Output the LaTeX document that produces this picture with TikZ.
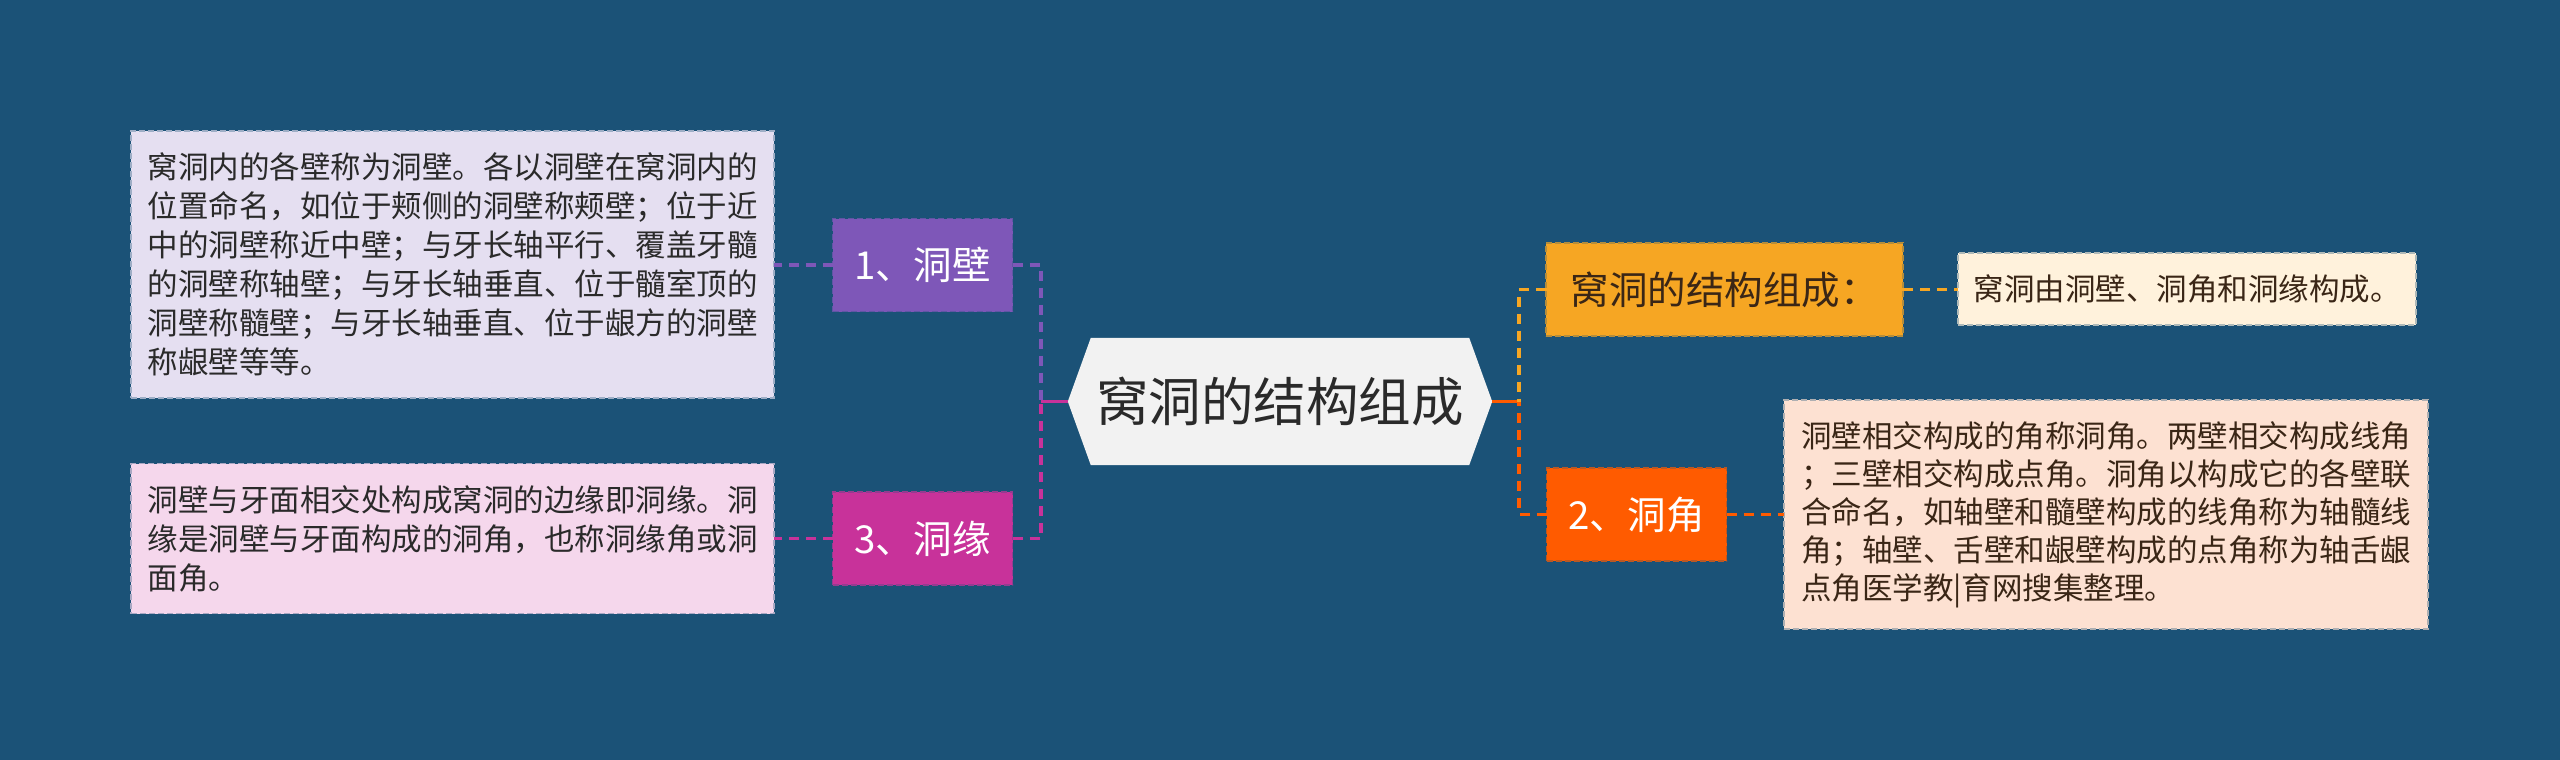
\documentclass[tikz,border=0pt]{standalone}
\usepackage{fontspec}
\setmainfont{Noto Sans CJK SC}
\usetikzlibrary{calc}
\definecolor{bg}{HTML}{1B5277}
\definecolor{cpurple}{HTML}{7E57B8}
\definecolor{cmagenta}{HTML}{C8329A}
\definecolor{corange}{HTML}{F6A623}
\definecolor{cred}{HTML}{FF5B00}
\definecolor{flav}{HTML}{E5DFF1}
\definecolor{fpink}{HTML}{F5D7EC}
\definecolor{fcream}{HTML}{FFF2DC}
\definecolor{fpeach}{HTML}{FDE1D2}
\definecolor{fcenter}{HTML}{F2F2F2}
\definecolor{tdark}{HTML}{2A2A2A}
\definecolor{tbrown}{HTML}{3A2616}
\tikzset{
  box/.style={rectangle, inner sep=0pt, outer sep=0pt, line width=1.5pt, dash pattern=on 6pt off 3pt},
  leaf/.style={box, align=left, font=\fontsize{30.5}{39}\selectfont},
  branch/.style={box, font=\fontsize{38.5}{44}\selectfont, minimum width=180pt, minimum height=93pt},
  link/.style={line width=3.5pt, dash pattern=on 10pt off 7pt},
}
\begin{document}
\begin{tikzpicture}[x=1pt,y=-1pt]
\fill[bg] (0,0) rectangle (2560,760);
\useasboundingbox (0,0) rectangle (2560,760);

% center
\node[inner sep=0pt, minimum width=424pt, minimum height=127pt] (c) at (1280,401.5) {};
\fill[fcenter] (c.west) -- ($(c.north west)+(23,0)$) -- ($(c.north east)+(-23,0)$) -- (c.east) -- ($(c.south east)+(-23,0)$) -- ($(c.south west)+(23,0)$) -- cycle;
\node[font=\fontsize{52.5}{60}\selectfont, text=tdark] at (c.center) {窝洞的结构组成};

% branch nodes
\node[branch, fill=cpurple, draw=cpurple!70!bg, text=white] (n1) at (922.5,265) {1、洞壁};
\node[branch, fill=cmagenta, draw=cmagenta!70!bg, text=white] (n3) at (922.5,538.5) {3、洞缘};
\node[branch, fill=corange, draw=corange!70!bg, text=tbrown, minimum width=357pt] (o1) at (1724.5,289.5) {窝洞的结构组成：};
\node[branch, fill=cred, draw=cred!70!bg, text=white] (n2) at (1636.5,514.5) {2、洞角};

% leaf nodes
\node[leaf, fill=flav, draw=flav!65!bg, text=tdark, minimum width=643pt, minimum height=267pt] (l1) at (452.5,264.5) {窝洞内的各壁称为洞壁。各以洞壁在窝洞内的\\位置命名，如位于颊侧的洞壁称颊壁；位于近\\中的洞壁称近中壁；与牙长轴平行、覆盖牙髓\\的洞壁称轴壁；与牙长轴垂直、位于髓室顶的\\洞壁称髓壁；与牙长轴垂直、位于龈方的洞壁\\称龈壁等等。};
\node[leaf, fill=fpink, draw=fpink!65!bg, text=tdark, minimum width=643pt, minimum height=150pt] (l3) at (452.5,538.5) {洞壁与牙面相交处构成窝洞的边缘即洞缘。洞\\缘是洞壁与牙面构成的洞角，也称洞缘角或洞\\面角。};
\node[leaf, fill=fcream, draw=fcream!65!bg, text=tbrown, minimum width=458pt, minimum height=72pt] (c1) at (2187,289) {窝洞由洞壁、洞角和洞缘构成。};
\node[leaf, fill=fpeach, draw=fpeach!65!bg, text=tbrown, minimum width=644pt, minimum height=229pt, font=\fontsize{30.5}{38}\selectfont] (r2) at (2106,514.5) {洞壁相交构成的角称洞角。两壁相交构成线角\\；三壁相交构成点角。洞角以构成它的各壁联\\合命名，如轴壁和髓壁构成的线角称为轴髓线\\角；轴壁、舌壁和龈壁构成的点角称为轴舌龈\\点角医学教|育网搜集整理。};

% trunk coordinates
\coordinate (lj) at (1041,401.5);
\coordinate (rj) at (1519,401.5);

% left connectors
\draw[cmagenta, line width=3.5pt] (c.west) -- (lj);
\draw[cpurple, link] (n1.east) -| (lj);
\draw[cmagenta, link] (n3.east) -| (lj);
\draw[cpurple, link] (n1.west) -- (l1.east |- n1.west);
\draw[cmagenta, link] (n3.west) -- (l3.east |- n3.west);

% right connectors
\draw[cred, line width=3.5pt] (c.east) -- (rj);
\draw[corange, link] (o1.west) -| (rj);
\draw[cred, link] (n2.west) -| (rj);
\draw[corange, link] (o1.east) -- (c1.west |- o1.east);
\draw[cred, link] (n2.east) -- (r2.west |- n2.east);
\end{tikzpicture}
\end{document}
